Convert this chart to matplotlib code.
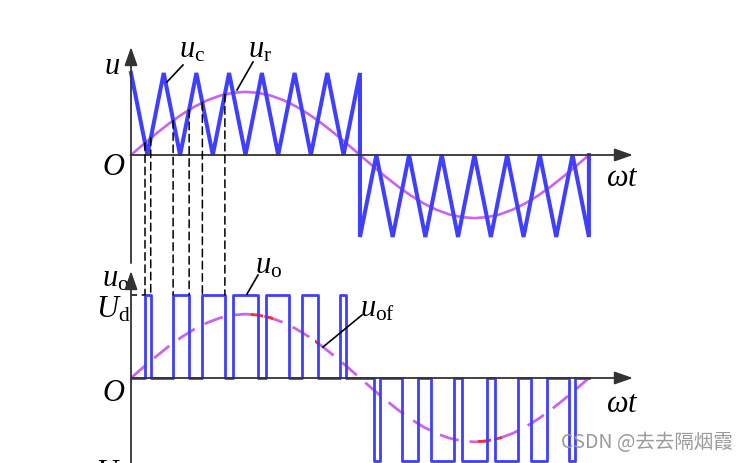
import matplotlib
matplotlib.use('Agg')
import matplotlib.pyplot as plt
from matplotlib.patches import ConnectionPatch, Rectangle

plt.rcParams['mathtext.fontset'] = 'custom'
plt.rcParams['mathtext.it'] = 'Liberation Serif:italic'
plt.rcParams['mathtext.rm'] = 'Liberation Serif'

# triangular carrier u_c, vertices (angle in deg, value)
carrier_x = [0, 12.9, 25.7, 38.6, 51.4, 64.3, 77.1, 90, 102.9, 115.7, 128.6, 141.4, 154.3, 167.1, 180,
             180, 192.9, 205.7, 218.6, 231.4, 244.3, 257.1, 270, 282.9, 295.7, 308.6, 321.4, 334.3,
             347.1, 360, 360]
carrier_y = [1, 0, 1, 0, 1, 0, 1, 0, 1, 0, 1, 0, 1, 0, 1,
             -1, 0, -1, 0, -1, 0, -1, 0, -1, 0, -1, 0, -1, 0, -1, 0]

# reference u_r (read every 10 deg)
sine_x = [0, 10, 20, 30, 40, 50, 60, 70, 80, 90, 100, 110, 120, 130, 140, 150, 160, 170, 180,
          190, 200, 210, 220, 230, 240, 250, 260, 270, 280, 290, 300, 310, 320, 330, 340, 350, 360]
sine_y = [0, .134, .263, .385, .495, .590, .667, .724, .758, .77, .758, .724, .667, .590, .495,
          .385, .263, .134, 0, -.134, -.263, -.385, -.495, -.590, -.667, -.724, -.758, -.77,
          -.758, -.724, -.667, -.590, -.495, -.385, -.263, -.134, 0]

# output pulses u_o (switching angles)
pos_on = [11, 33.1, 56.1, 80.3, 106.2, 134.3, 164.5]
pos_off = [15.5, 45.7, 73.8, 99.7, 123.9, 146.9, 169]
neg_on = [191, 213.1, 236.1, 260.3, 286.2, 314.3, 344.5]
neg_off = [195.5, 225.7, 253.8, 279.7, 303.9, 326.9, 349]

# dashed projection lines: start height on u_r
dash_x = [11, 15.5, 33.1, 45.7, 56.1, 73.8]
dash_y = [0.15, 0.21, 0.42, 0.55, 0.64, 0.74]

# red parts of u_of
red_ranges = [(94, 104), (106, 112), (145, 147.5), (273, 283), (285, 292)]

BLUE = '#3f3fff'
VIOLET = '#cc62ee'
AX = '#333333'

fig = plt.figure(figsize=(7.46, 4.63), dpi=100)
ax_t = fig.add_axes([0, 0, 1, 1])
ax_b = fig.add_axes([0, 0, 1, 1])
for a in (ax_t, ax_b):
    a.set_xlim(-103.0, 483.5)
    a.axis('off')
    a.patch.set_alpha(0)
ax_t.set_ylim(-3.756, 1.890)
ax_b.set_ylim(-1.024, 4.554)


def top_xy(px, py):
    return ((px - 131) / 1.272, (155 - py) / 82)


def bot_xy(px, py):
    return ((px - 131) / 1.272, (378 - py) / 83)


def arrow(ax, start, tip):
    ax.annotate('', xy=tip, xytext=start,
                arrowprops=dict(arrowstyle='-|>,head_length=0.8,head_width=0.28',
                                lw=1.3, color=AX, shrinkA=0, shrinkB=0,
                                mutation_scale=14), zorder=5)


# ---- top panel ----
ax_t.plot(sine_x, sine_y, color=VIOLET, lw=1.9, zorder=2)
ax_t.plot(carrier_x, carrier_y, color=BLUE, lw=2.9, solid_joinstyle='miter', zorder=3)
arrow(ax_t, top_xy(131, 155), top_xy(633, 155))
arrow(ax_t, top_xy(131, 263), top_xy(131, 47))

# ---- bottom panel ----
px, py = [0], [0]
for on, off in zip(pos_on, pos_off):
    px += [on, on, off, off]
    py += [0, 1, 1, 0]
for on, off in zip(neg_on, neg_off):
    px += [on, on, off, off]
    py += [0, -1, -1, 0]
px.append(360)
py.append(0)
ax_b.plot(px, py, color=BLUE, lw=2.0, zorder=3)

ax_b.plot(sine_x, sine_y, color=VIOLET, lw=2.0, dashes=(7, 4), zorder=2)
for a, b in red_ranges:
    ln, = ax_b.plot(sine_x, sine_y, color='#ff2a2a', lw=2.0, zorder=2.5)
    ln.set_clip_path(Rectangle((a, -2), b - a, 4, transform=ax_b.transData))

ax_b.plot([0, 11], [1, 1], color='black', lw=1.1, dashes=(4, 3), zorder=2)
arrow(ax_b, bot_xy(131, 378), bot_xy(633, 378))
arrow(ax_b, bot_xy(131, 470), bot_xy(131, 271))

# projection lines between the panels
for x, y in zip(dash_x, dash_y):
    con = ConnectionPatch(xyA=(x, y), coordsA=ax_t.transData,
                          xyB=(x, 1), coordsB=ax_b.transData,
                          color='black', lw=1.1, linestyle=(0, (5, 3)), zorder=1)
    fig.add_artist(con)

# ---- labels ----
fs = 22
ax_t.text(*top_xy(112, 66), r'$u$', fontsize=fs, ha='center', va='center')
ax_t.text(*top_xy(114, 167), r'$O$', fontsize=fs, ha='center', va='center')
ax_t.text(*top_xy(622, 178), r'$\omega t$', fontsize=fs, ha='center', va='center')
ax_t.text(*top_xy(192, 50), r'$u_{\mathrm{c}}$', fontsize=fs, ha='center', va='center')
ax_t.text(*top_xy(260, 50), r'$u_{\mathrm{r}}$', fontsize=fs, ha='center', va='center')
ax_t.plot(*zip(top_xy(183, 65), top_xy(167, 82)), color='black', lw=1.2, zorder=4)
ax_t.plot(*zip(top_xy(253, 62), top_xy(237, 90)), color='black', lw=1.2, zorder=4)

ax_b.text(*bot_xy(116, 279), r'$u_{\mathrm{o}}$', fontsize=fs, ha='center', va='center')
ax_b.text(*bot_xy(113, 309), r'$U_{\mathrm{d}}$', fontsize=fs, ha='center', va='center')
ax_b.text(*bot_xy(114, 392), r'$O$', fontsize=fs, ha='center', va='center')
ax_b.text(*bot_xy(622, 403), r'$\omega t$', fontsize=fs, ha='center', va='center')
ax_b.text(*bot_xy(269, 266), r'$u_{\mathrm{o}}$', fontsize=fs, ha='center', va='center')
ax_b.text(*bot_xy(378, 309), r'$u_{\mathrm{of}}$', fontsize=fs, ha='center', va='center')
ax_b.text(*bot_xy(108, 472), r'$U$', fontsize=fs, ha='center', va='center')
ax_b.plot(*zip(bot_xy(258, 275), bot_xy(247, 294)), color='black', lw=1.2, zorder=4)
ax_b.plot(*zip(bot_xy(362, 315), bot_xy(323, 347)), color='black', lw=1.2, zorder=4)

fig.text(733 / 746, 1 - 442 / 463, 'CSDN @去去隔烟霞', fontsize=14, color='#9a9a9a',
         ha='right', va='center', family=['Noto Sans CJK SC', 'DejaVu Sans'])

fig.savefig('out.png', dpi=100)
